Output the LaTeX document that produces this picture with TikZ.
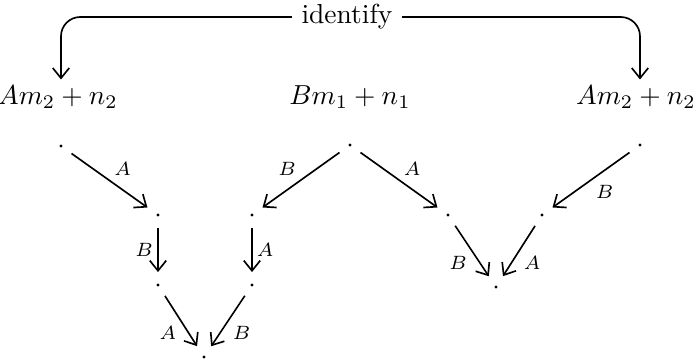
\documentclass[tikz,border=0pt]{standalone}
\usetikzlibrary{arrows.meta}
\tikzset{
  pt/.style={circle, inner sep=0pt, minimum size=9pt, path picture={\fill (path picture bounding box.center) circle (0.55pt);}},
  term/.style={inner sep=2pt},
  arr/.style={-{Straight Barb[length=1.3mm,width=2.1mm]}, semithick},
  lbl/.style={font=\scriptsize, inner sep=1.5pt},
}
\begin{document}
\begin{tikzpicture}[x=0.3636pt, y=-0.3636pt]
    \useasboundingbox (0,0) rectangle (694,361);
    % terms
    \node (idf) at (347,17) {identify};
    \node[term] (lft) at (58,97) {$Am_2+n_2$};
    \node[term] (mid) at (350,97) {$Bm_1+n_1$};
    \node[term] (rgt) at (636,97) {$Am_2+n_2$};
    % points
    \node[pt] (t1) at (61,146) {}; \node[pt] (t2) at (350,145) {}; \node[pt] (t3) at (640,145) {};
    \node[pt] (a1) at (158,215) {}; \node[pt] (a2) at (252,215) {};
    \node[pt] (a3) at (448,215) {}; \node[pt] (a4) at (542,215) {};
    \node[pt] (b1) at (158,285) {}; \node[pt] (b2) at (252,285) {}; \node[pt] (b3) at (496,287) {};
    \node[pt] (c) at (204,357) {};
    \draw[arr, rounded corners=7pt] (idf.west) -| (lft.north -| t1);
    \draw[arr, rounded corners=7pt] (idf.east) -| (rgt.north -| t3);
    \draw[arr] (t1) -- node[lbl, above right] {$A$} (a1);
    \draw[arr] (t2) -- node[lbl, above left] {$B$} (a2);
    \draw[arr] (t2) -- node[lbl, above right] {$A$} (a3);
    \draw[arr] (t3) -- node[lbl, below right] {$B$} (a4);
    \draw[arr] (a1) -- node[lbl, left] {$B$} (b1);
    \draw[arr] (a2) -- node[lbl, right] {$A$} (b2);
    \draw[arr] (b1) -- node[lbl, below left] {$A$} (c);
    \draw[arr] (b2) -- node[lbl, below right] {$B$} (c);
    \draw[arr] (a3) -- node[lbl, below left] {$B$} (b3);
    \draw[arr] (a4) -- node[lbl, below right] {$A$} (b3);
  \end{tikzpicture}
\end{document}
